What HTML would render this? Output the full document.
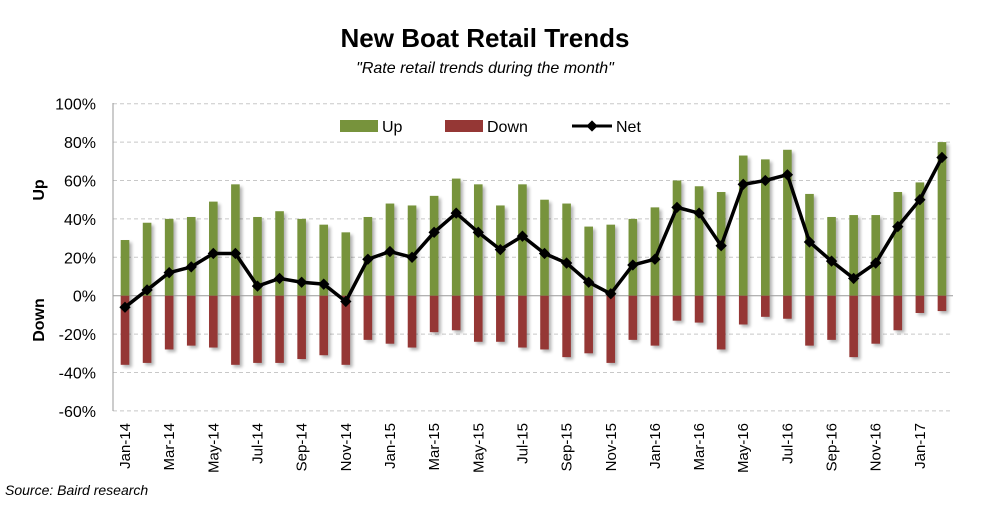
<!DOCTYPE html>
<html><head><meta charset="utf-8"><style>
body{margin:0;background:#fff;}
svg text{font-family:"Liberation Sans",sans-serif;}
</style></head><body>
<svg id="s" width="1000" height="512" xmlns="http://www.w3.org/2000/svg">
<defs><filter id="b" x="-50%" y="-10%" width="200%" height="120%"><feGaussianBlur stdDeviation="1.5"/></filter></defs>
<rect width="1000" height="512" fill="#fff"/>
<text x="485" y="47" text-anchor="middle" font-size="26" font-weight="bold" fill="#000">New Boat Retail Trends</text>
<text x="485" y="73" text-anchor="middle" font-size="16" font-style="italic" fill="#000">"Rate retail trends during the month"</text>
<text x="5" y="495" font-size="14" font-style="italic" fill="#000">Source: Baird research</text>
<text transform="translate(44,190) rotate(-90)" text-anchor="middle" font-size="16" font-weight="bold">Up</text>
<text transform="translate(44,320) rotate(-90)" text-anchor="middle" font-size="16" font-weight="bold">Down</text>
<g id="g"></g>
<rect x="340" y="120" width="38" height="12" fill="#77933c"/>
<text x="382" y="132" font-size="16">Up</text>
<rect x="445" y="120" width="38" height="12" fill="#953735"/>
<text x="487" y="132" font-size="16">Down</text>
<line x1="572" y1="126" x2="612" y2="126" stroke="#000" stroke-width="3"/>
<rect x="588" y="122" width="8" height="8" transform="rotate(45 592 126)" fill="#000"/>
<text x="616" y="132" font-size="16">Net</text>
</svg>
<script>
var up=[29,38,40,41,49,58,41,44,40,37,33,41,48,47,52,61,58,47,58,50,48,36,37,40,46,60,57,54,73,71,76,53,41,42,42,54,59,80];
var dn=[-36,-35,-28,-26,-27,-36,-35,-35,-33,-31,-36,-23,-25,-27,-19,-18,-24,-24,-27,-28,-32,-30,-35,-23,-26,-13,-14,-28,-15,-11,-12,-26,-23,-32,-25,-18,-9,-8];
var net=[-6,3,12,15,22,22,5,9,7,6,-3,19,23,20,33,43,33,24,31,22,17,7,1,16,19,46,43,26,58,60,63,28,18,9,17,36,50,72];
var m=["Jan","Feb","Mar","Apr","May","Jun","Jul","Aug","Sep","Oct","Nov","Dec"];
function Y(v){return 295.7-v*1.92;}
function X(i){return 125+i*22.08;}
var h="";
for(var v=100;v>=-60;v-=20){var y=Y(v);
 if(v!=0)h+='<line x1="113" y1="'+y+'" x2="953" y2="'+y+'" stroke="#c8c8c8" stroke-dasharray="4,3"/>';
 h+='<text x="96" y="'+(y+6)+'" text-anchor="end" font-size="16">'+v+'%</text>';}
h+='<line x1="113" y1="103" x2="113" y2="411" stroke="#999"/>';
for(var i=0;i<38;i++){var x=X(i);
 h+='<rect x="'+(x+2.5-4.3)+'" y="'+(Y(up[i])+2.5)+'" width="8.6" height="'+(Y(dn[i])-Y(up[i]))+'" fill="#000" opacity="0.3" filter="url(#b)"/>';
}
h+='<line x1="113" y1="295.7" x2="953" y2="295.7" stroke="#999"/>';
for(var i=0;i<38;i++){var x=X(i);
 h+='<rect x="'+(x-4.3)+'" y="'+Y(up[i])+'" width="8.6" height="'+(295.7-Y(up[i]))+'" fill="#77933c"/>';
 h+='<rect x="'+(x-4.3)+'" y="295.7" width="8.6" height="'+(Y(dn[i])-295.7)+'" fill="#953735"/>';
 if(i%2==0){var yr=14+Math.floor(i/12);
  h+='<text transform="translate('+(x+5)+',423) rotate(-90)" text-anchor="end" font-size="15">'+m[i%12]+'-'+yr+'</text>';}
}
var p="";for(var i=0;i<38;i++)p+=(i?"L":"M")+X(i)+","+Y(net[i]);
h+='<path d="'+p+'" fill="none" stroke="#000" stroke-width="3.5" stroke-linejoin="round"/>';
for(var i=0;i<38;i++){var x=X(i),y=Y(net[i]);
 h+='<rect x="'+(x-4)+'" y="'+(y-4)+'" width="8" height="8" transform="rotate(45 '+x+' '+y+')" fill="#000"/>';}
document.getElementById("g").innerHTML=h;
</script>
</body></html>
